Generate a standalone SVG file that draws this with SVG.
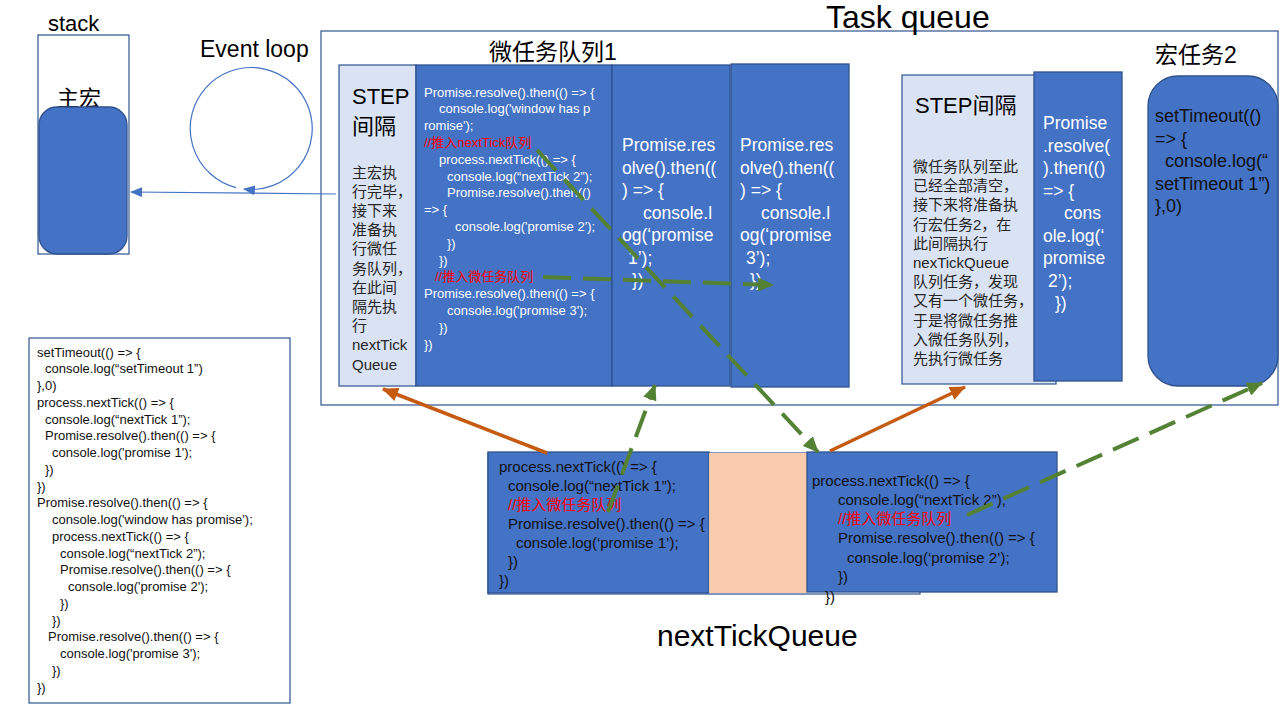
<svg xmlns="http://www.w3.org/2000/svg" width="1280" height="720" viewBox="0 0 1280 720">
<defs>
<style>
text{font-family:'Liberation Sans','Noto Sans CJK SC',sans-serif;}
.k{fill:#000}
.w{fill:#fff}
.r{fill:#ff0000}
.d{fill:#111}
.g{fill:#262626}
.c13{font-size:13px}
.c15{font-size:15px}
.c17{font-size:17.5px}
.c18{font-size:18px}
.blue{fill:#4472c4;stroke:#2f528f;stroke-width:1.3}
.lite{fill:#dae3f3;stroke:#2f528f;stroke-width:1.2}
.frame{fill:#fff;stroke:#2f528f;stroke-width:1.2}
.or{stroke:#c55a11;stroke-width:3.5;fill:none}
.gr{stroke:#548235;stroke-width:4;fill:none;stroke-dasharray:28 12}
.bl{stroke:#4472c4;stroke-width:1.2;fill:none}
</style>
<marker id="ab" markerUnits="userSpaceOnUse" markerWidth="12" markerHeight="10" refX="11" refY="5" orient="auto"><path d="M0,0 L12,5 L0,10 Z" fill="#4472c4"/></marker>
<marker id="ao" markerUnits="userSpaceOnUse" markerWidth="16" markerHeight="14" refX="15" refY="7" orient="auto"><path d="M0,0 L16,7 L0,14 Z" fill="#c55a11"/></marker>
<marker id="ag" markerUnits="userSpaceOnUse" markerWidth="16" markerHeight="14" refX="15" refY="7" orient="auto"><path d="M0,0 L16,7 L0,14 Z" fill="#548235"/></marker>
</defs>
<rect width="1280" height="720" fill="#fff"/>

<g id="stack">
<text x="48" y="31" class="k" style="font-size:22px">stack</text>
<rect x="38" y="35" width="91" height="219" class="frame"/>
<text x="57" y="106" class="k" style="font-size:22px">主宏</text>
<rect x="39" y="107" width="88" height="147" rx="18" class="blue"/>
</g>

<g id="event-loop">
<text x="200" y="57" class="k" style="font-size:23px">Event loop</text>
</g>

<g id="task-queue">
<rect x="321" y="31" width="957" height="374" class="frame"/>
<text x="826" y="28" class="k" style="font-size:32px">Task queue</text>
<text x="489" y="60" class="k" style="font-size:23px">微任务队列1</text>
</g>

<g id="step1">
<rect x="339" y="65" width="77" height="321" class="lite"/>
<text x="352" y="104" class="k" style="font-size:22px">STEP</text>
<text x="352" y="134" class="k" style="font-size:22px">间隔</text>
<g class="g c15">
<text x="352" y="177.5">主宏执</text>
<text x="352" y="196.7">行完毕，</text>
<text x="352" y="215.9">接下来</text>
<text x="352" y="235.1">准备执</text>
<text x="352" y="254.3">行微任</text>
<text x="352" y="273.5">务队列，</text>
<text x="352" y="292.7">在此间</text>
<text x="352" y="311.9">隔先执</text>
<text x="352" y="331.1">行</text>
<text x="352" y="350.3">nextTick</text>
<text x="352" y="369.5">Queue</text>
</g>
</g>

<g id="micro-main">
<rect x="416" y="65" width="196" height="321" class="blue"/>
<g class="w c13">
<text x="424" y="96.5">Promise.resolve().then(() =&gt; {</text>
<text x="439" y="113.3">console.log('window has p</text>
<text x="424" y="130.1">romise');</text>
<text x="424" y="146.9" class="r">//推入nextTick队列</text>
<text x="439" y="163.7">process.nextTick(() =&gt; {</text>
<text x="447" y="180.5">console.log(“nextTick  2”);</text>
<text x="447" y="197.3">Promise.resolve().then(()</text>
<text x="424" y="214.1">=&gt; {</text>
<text x="455" y="230.9">console.log('promise 2');</text>
<text x="447" y="247.7">})</text>
<text x="439" y="264.5">})</text>
<text x="435" y="281.3" class="r">//推入微任务队列</text>
<text x="424" y="298.1">Promise.resolve().then(() =&gt; {</text>
<text x="447" y="314.9">console.log('promise 3');</text>
<text x="439" y="331.7">})</text>
<text x="424" y="348.5">})</text>
</g>
</g>

<g id="micro-promise1">
<rect x="612" y="65" width="118" height="321" class="blue"/>
<g class="w c17">
<text x="622" y="151">Promise.res</text>
<text x="622" y="173.5">olve().then((</text>
<text x="622" y="196">) =&gt; {</text>
<text x="643" y="218.5">console.l</text>
<text x="622" y="241">og(‘promise</text>
<text x="628" y="263.5">1’);</text>
<text x="632" y="286">})</text>
</g>
</g>

<g id="micro-promise3">
<rect x="731" y="64" width="118" height="323" class="blue"/>
<g class="w c17">
<text x="740" y="151">Promise.res</text>
<text x="740" y="173.5">olve().then((</text>
<text x="740" y="196">) =&gt; {</text>
<text x="761" y="218.5">console.l</text>
<text x="740" y="241">og(‘promise</text>
<text x="746" y="263.5">3’);</text>
<text x="750" y="286">})</text>
</g>
</g>

<g id="step2">
<rect x="902" y="75" width="154" height="309" class="lite"/>
<text x="915" y="113" class="k" style="font-size:22px">STEP间隔</text>
<g class="g c15">
<text x="913" y="172">微任务队列至此</text>
<text x="913" y="191.2">已经全部清空，</text>
<text x="913" y="210.4">接下来将准备执</text>
<text x="913" y="229.6">行宏任务2，在</text>
<text x="913" y="248.8">此间隔执行</text>
<text x="913" y="268">nexTickQueue</text>
<text x="913" y="287.2">队列任务，发现</text>
<text x="913" y="306.4">又有一个微任务，</text>
<text x="913" y="325.6">于是将微任务推</text>
<text x="913" y="344.8">入微任务队列，</text>
<text x="913" y="364">先执行微任务</text>
</g>
</g>

<g id="micro-promise2">
<rect x="1034" y="72" width="88" height="309" class="blue"/>
<g class="w c17">
<text x="1043" y="129">Promise</text>
<text x="1043" y="151.5">.resolve(</text>
<text x="1043" y="174">).then(()</text>
<text x="1043" y="196.5">=&gt; {</text>
<text x="1064" y="219">cons</text>
<text x="1043" y="241.5">ole.log(‘</text>
<text x="1043" y="264">promise</text>
<text x="1048" y="286.5">2’);</text>
<text x="1055" y="309">})</text>
</g>
</g>

<g id="macro2">
<text x="1155" y="63" class="k" style="font-size:23px">宏任务2</text>
<rect x="1148" y="76" width="130" height="310" rx="30" class="blue"/>
<g class="d c18">
<text x="1155" y="122">setTimeout(()</text>
<text x="1155" y="144.5">=&gt; {</text>
<text x="1165" y="167">console.log(“</text>
<text x="1155" y="189.5">setTimeout 1”)</text>
<text x="1155" y="212">},0)</text>
</g>
</g>

<g id="source-code">
<rect x="29" y="338" width="261" height="365" class="frame"/>
<g class="d c13">
<text x="37" y="356.5">setTimeout(() =&gt; {</text>
<text x="45" y="373.3">console.log(“setTimeout 1”)</text>
<text x="37" y="390">},0)</text>
<text x="37" y="406.8">process.nextTick(() =&gt; {</text>
<text x="45" y="423.5">console.log(“nextTick 1”);</text>
<text x="45" y="440.3">Promise.resolve().then(() =&gt; {</text>
<text x="52" y="457">console.log('promise 1');</text>
<text x="45" y="473.8">})</text>
<text x="37" y="490.5">})</text>
<text x="37" y="507.3">Promise.resolve().then(() =&gt; {</text>
<text x="52" y="524">console.log('window has promise');</text>
<text x="52" y="540.8">process.nextTick(() =&gt; {</text>
<text x="60" y="557.5">console.log(“nextTick  2”);</text>
<text x="60" y="574.3">Promise.resolve().then(() =&gt; {</text>
<text x="68" y="591">console.log('promise 2');</text>
<text x="60" y="607.8">})</text>
<text x="52" y="624.5">})</text>
<text x="48" y="641.3">Promise.resolve().then(() =&gt; {</text>
<text x="60" y="658">console.log('promise 3');</text>
<text x="52" y="674.8">})</text>
<text x="37" y="691.5">})</text>
</g>
</g>

<g id="nexttick-queue">
<rect x="488" y="453" width="432" height="141" class="frame"/>
<text x="657" y="646" class="k" style="font-size:30px">nextTickQueue</text>
</g>

<g id="nexttick1">
<rect x="488" y="452" width="221" height="141" class="blue"/>
<g class="d c15">
<text x="499" y="471.5">process.nextTick(() =&gt; {</text>
<text x="508" y="490.5">console.log(“nextTick 1”);</text>
<text x="508" y="509.5" class="r">//推入微任务队列</text>
<text x="508" y="528.5">Promise.resolve().then(() =&gt; {</text>
<text x="516" y="548">console.log(‘promise 1’);</text>
<text x="508" y="567">})</text>
<text x="499" y="586">})</text>
</g>
</g>

<g id="spacer">
<rect x="709" y="453" width="98" height="140" fill="#f8cbad"/>
</g>

<g id="nexttick2">
<rect x="807" y="452" width="250" height="140" class="blue"/>
<g class="d c15">
<text x="812" y="486">process.nextTick(() =&gt; {</text>
<text x="838" y="504.5">console.log(“nextTick 2”);</text>
<text x="838" y="523.5" class="r">//推入微任务队列</text>
<text x="838" y="543">Promise.resolve().then(() =&gt; {</text>
<text x="847" y="562.5">console.log(‘promise 2’);</text>
<text x="838" y="582">})</text>
<text x="825" y="602">})</text>
</g>
</g>

<g id="connectors">
<path d="M236,187.6 A61 61 0 1 1 244,189.1" class="bl" marker-end="url(#ab)"/>
<path d="M336,194 L131,192" class="bl" marker-end="url(#ab)"/>
<path d="M547,453 L383,389" class="or" marker-end="url(#ao)"/>
<path d="M830,451 L965,387" class="or" marker-end="url(#ao)"/>
<path d="M608,512 L655,385" class="gr" marker-end="url(#ag)"/>
<path d="M537,150 L818,452" class="gr" marker-end="url(#ag)"/>
<path d="M543,277 L773,285" class="gr" marker-end="url(#ag)"/>
<path d="M967,515 L1262,383" class="gr" marker-end="url(#ag)"/>
</g>
</svg>
